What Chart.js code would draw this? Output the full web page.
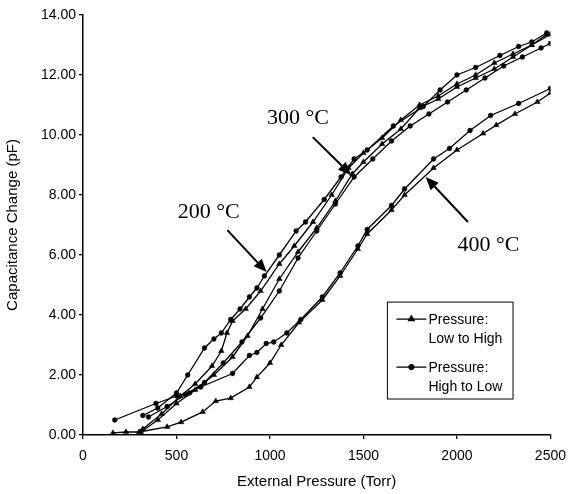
<!DOCTYPE html>
<html>
<head>
<meta charset="utf-8">
<script src="https://cdn.jsdelivr.net/npm/chart.js@4/dist/chart.umd.min.js"></script>
<style>
  html, body { margin: 0; padding: 0; background: #fff; }
  #wrap { width: 575px; height: 494px; }
</style>
</head>
<body>
<div id="wrap"><canvas id="capChart" width="575" height="494"></canvas></div>
<script>
// x ticks / y ticks
const xTicks = [0, 500, 1000, 1500, 2000, 2500];
const yTicks = [0, 2, 4, 6, 8, 10, 12, 14];

// 200 C, pressure high to low (circles)
const p200Down = [320, 400, 500, 560, 650, 700, 740, 790, 840, 890, 930, 970, 1050, 1140, 1190, 1290, 1380, 1450, 1520, 1660, 1820, 1910, 2000, 2100, 2230, 2330, 2400, 2480];
const c200Down = [0.65, 0.9, 1.4, 2.0, 2.9, 3.2, 3.4, 3.85, 4.2, 4.6, 4.9, 5.3, 6.0, 6.8, 7.1, 7.85, 8.6, 9.2, 9.5, 10.3, 10.95, 11.5, 12.0, 12.25, 12.65, 12.95, 13.1, 13.4];
// 200 C, pressure low to high (triangles)
const p200Up = [320, 420, 520, 600, 690, 740, 770, 800, 870, 950, 1050, 1130, 1230, 1330, 1420, 1500, 1600, 1700, 1800, 1900, 2000, 2100, 2200, 2300, 2400, 2500];
const c200Up = [0.2, 0.7, 1.3, 1.7, 2.3, 2.8, 3.4, 3.8, 4.2, 4.8, 5.7, 6.3, 7.1, 8.0, 8.9, 9.4, 9.9, 10.5, 11.0, 11.3, 11.7, 12.0, 12.4, 12.7, 13.0, 13.35];

// 300 C
const p300Down = [350, 450, 550, 650, 750, 850, 950, 1050, 1150, 1250, 1350, 1450, 1550, 1650, 1750, 1850, 1950, 2050, 2150, 2250, 2350, 2450, 2500];
const c300Down = [0.6, 0.95, 1.35, 1.75, 2.4, 3.1, 3.9, 4.8, 5.9, 6.8, 7.7, 8.6, 9.2, 9.8, 10.3, 10.7, 11.1, 11.5, 11.9, 12.3, 12.6, 12.9, 13.05];
const p300Up = [310, 400, 500, 600, 700, 800, 880, 960, 1050, 1150, 1250, 1350, 1440, 1500, 1600, 1700, 1800, 1900, 2000, 2100, 2200, 2300, 2400, 2480];
const c300Up = [0.1, 0.5, 1.05, 1.5, 2.0, 2.6, 3.3, 4.2, 5.2, 6.1, 6.9, 7.8, 8.7, 9.1, 9.7, 10.2, 10.9, 11.2, 11.6, 11.9, 12.2, 12.6, 13.0, 13.35];

// 400 C
const p400Down = [170, 390, 500, 570, 630, 800, 890, 930, 980, 1020, 1090, 1165, 1280, 1375, 1470, 1520, 1650, 1720, 1875, 1960, 2070, 2180, 2330, 2500];
const c400Down = [0.5, 1.05, 1.3, 1.4, 1.6, 2.05, 2.65, 2.75, 3.05, 3.1, 3.4, 3.85, 4.6, 5.4, 6.3, 6.85, 7.65, 8.2, 9.2, 9.55, 10.15, 10.65, 11.05, 11.55];
const p400Up = [160, 230, 300, 450, 525, 640, 710, 790, 890, 930, 1000, 1060, 1155, 1280, 1375, 1470, 1520, 1650, 1720, 1875, 2000, 2140, 2210, 2310, 2430, 2500];
const c400Up = [0.07, 0.1, 0.1, 0.27, 0.43, 0.77, 1.13, 1.23, 1.6, 1.93, 2.4, 3.0, 3.75, 4.5, 5.3, 6.2, 6.7, 7.5, 8.0, 8.9, 9.5, 10.05, 10.33, 10.7, 11.1, 11.4];

// annotation positions in data units
const labels = [
  { text: '200 °C', x: 672, y: 7.43 },
  { text: '300 °C', x: 1150, y: 10.57 },
  { text: '400 °C', x: 2169, y: 6.33 }
];
const arrows = [
  { x0: 772, y0: 6.83, x1: 982, y1: 5.43 },
  { x0: 1229, y0: 9.93, x1: 1434, y1: 8.67 },
  { x0: 2059, y0: 7.1, x1: 1833, y1: 8.6 }
];

function pts(xs, ys) {
  return xs.map((x, i) => ({ x: x, y: ys[i] }));
}

function series(xs, ys, up) {
  return {
    data: pts(xs, ys),
    borderColor: '#000',
    backgroundColor: '#000',
    borderWidth: 1.3,
    pointStyle: up ? 'triangle' : 'circle',
    pointRadius: up ? 3.2 : 2.4,
    pointBorderWidth: 0.5,
    tension: 0
  };
}

// draws the arrows, the temperature labels and the boxed legend
const annotate = {
  id: 'annotate',
  afterDraw(chart) {
    const ctx = chart.ctx;
    const xs = chart.scales.x, ys = chart.scales.y;
    ctx.save();
    ctx.fillStyle = '#000';
    ctx.strokeStyle = '#000';

    ctx.font = '22px "Liberation Serif", "Times New Roman", serif';
    ctx.textAlign = 'center';
    ctx.textBaseline = 'middle';
    labels.forEach(l => ctx.fillText(l.text, xs.getPixelForValue(l.x), ys.getPixelForValue(l.y)));

    arrows.forEach(a => {
      const x0 = xs.getPixelForValue(a.x0), y0 = ys.getPixelForValue(a.y0);
      const x1 = xs.getPixelForValue(a.x1), y1 = ys.getPixelForValue(a.y1);
      const ang = Math.atan2(y1 - y0, x1 - x0);
      const len = 13, half = 5.5;
      const bx = x1 - len * Math.cos(ang), by = y1 - len * Math.sin(ang);
      ctx.lineWidth = 2;
      ctx.beginPath();
      ctx.moveTo(x0, y0);
      ctx.lineTo(bx, by);
      ctx.stroke();
      ctx.beginPath();
      ctx.moveTo(x1, y1);
      ctx.lineTo(bx + half * Math.sin(ang), by - half * Math.cos(ang));
      ctx.lineTo(bx - half * Math.sin(ang), by + half * Math.cos(ang));
      ctx.closePath();
      ctx.fill();
    });

    // legend box
    const L = xs.getPixelForValue(1628), T = ys.getPixelForValue(4.43);
    const R = xs.getPixelForValue(2300), B = ys.getPixelForValue(1.2);
    ctx.lineWidth = 1;
    ctx.strokeRect(L, T, R - L, B - T);
    ctx.font = '14px "Liberation Sans", Arial, sans-serif';
    ctx.textAlign = 'left';
    const entries = [
      { style: 'triangle', lines: ['Pressure:', 'Low to High'], dy: 17 },
      { style: 'circle', lines: ['Pressure:', 'High to Low'], dy: 65 }
    ];
    entries.forEach(e => {
      const y = T + e.dy;
      ctx.lineWidth = 1.3;
      ctx.beginPath();
      ctx.moveTo(L + 9, y);
      ctx.lineTo(L + 39, y);
      ctx.stroke();
      Chart.helpers.drawPoint(ctx, { pointStyle: e.style, radius: e.style === 'triangle' ? 3.2 : 2.4, borderWidth: 0.5 }, L + 24, y);
      ctx.fillText(e.lines[0], L + 41, y + 1);
      ctx.fillText(e.lines[1], L + 41, y + 20);
    });
    ctx.restore();
  }
};

new Chart(document.getElementById('capChart'), {
  type: 'scatter',
  data: {
    datasets: [
      series(p200Down, c200Down, false),
      series(p200Up, c200Up, true),
      series(p300Down, c300Down, false),
      series(p300Up, c300Up, true),
      series(p400Down, c400Down, false),
      series(p400Up, c400Up, true)
    ].map(d => Object.assign(d, { showLine: true }))
  },
  options: {
    responsive: false,
    animation: false,
    layout: { padding: { left: 0, right: 16, top: 15, bottom: 0 } },
    plugins: {
      legend: { display: false },
      tooltip: { enabled: false }
    },
    scales: {
      x: {
        type: 'linear',
        min: 0,
        max: 2500,
        afterBuildTicks: s => { s.ticks = xTicks.map(v => ({ value: v })); },
        afterFit: s => { s.height = 59; },
        grid: { drawOnChartArea: false, drawTicks: true, tickLength: 4, color: '#000', lineWidth: 1.3 },
        border: { color: '#000', width: 1.5 },
        ticks: {
          color: '#000',
          padding: 9,
          maxRotation: 0,
          font: { family: '"Liberation Sans", Arial, sans-serif', size: 14 },
          callback: v => String(v)
        },
        title: {
          display: true,
          text: 'External Pressure (Torr)',
          color: '#000',
          padding: { top: 0, bottom: 3 },
          font: { family: '"Liberation Sans", Arial, sans-serif', size: 15 }
        }
      },
      y: {
        min: 0,
        max: 14,
        afterBuildTicks: s => { s.ticks = yTicks.map(v => ({ value: v })); },
        afterFit: s => { s.width = 83; },
        grid: { drawOnChartArea: false, drawTicks: true, tickLength: 4, color: '#000', lineWidth: 1.3 },
        border: { color: '#000', width: 1.5 },
        ticks: {
          color: '#000',
          padding: 3,
          font: { family: '"Liberation Sans", Arial, sans-serif', size: 14 },
          callback: v => v.toFixed(2)
        },
        title: {
          display: true,
          text: 'Capacitance Change (pF)',
          color: '#000',
          padding: { top: 4, bottom: 0 },
          font: { family: '"Liberation Sans", Arial, sans-serif', size: 15 }
        }
      }
    }
  },
  plugins: [annotate]
});
</script>
</body>
</html>
